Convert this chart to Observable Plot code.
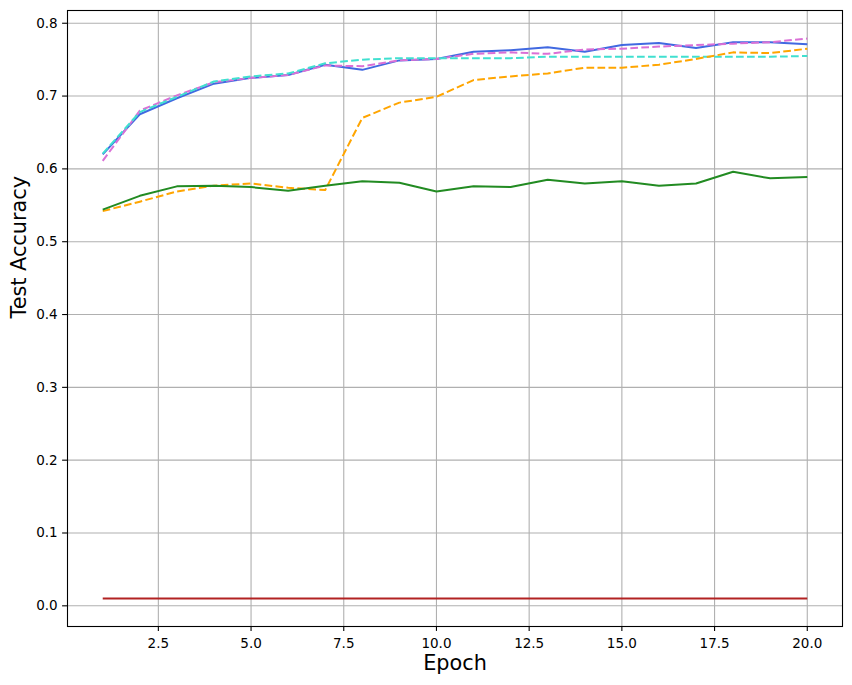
<!DOCTYPE html>
<html>
<head>
<meta charset="utf-8">
<script src="https://cdn.jsdelivr.net/npm/d3@7"></script>
<script src="https://cdn.jsdelivr.net/npm/@observablehq/plot@0.6"></script>
<style>
  html, body { margin: 0; padding: 0; background: #fff; }
  #chart { width: 852px; height: 685px; }
</style>
</head>
<body>
<div id="chart"></div>
<script>
const epochs = [1,2,3,4,5,6,7,8,9,10,11,12,13,14,15,16,17,18,19,20];

const blueSolid = [0.620,0.675,0.697,0.717,0.725,0.729,0.743,0.736,0.749,0.751,0.761,0.763,0.767,0.761,0.770,0.773,0.766,0.774,0.774,0.771];
const orchidDashed = [0.611,0.680,0.701,0.719,0.725,0.729,0.742,0.741,0.749,0.751,0.758,0.760,0.758,0.764,0.765,0.768,0.770,0.772,0.774,0.779];
const turquoiseDashed = [0.621,0.678,0.699,0.720,0.727,0.731,0.745,0.750,0.752,0.752,0.752,0.752,0.754,0.754,0.754,0.754,0.754,0.754,0.754,0.755];
const orangeDashed = [0.542,0.555,0.569,0.577,0.580,0.574,0.571,0.670,0.691,0.699,0.722,0.727,0.731,0.739,0.739,0.743,0.751,0.760,0.759,0.765];
const greenSolid = [0.544,0.563,0.576,0.577,0.575,0.570,0.577,0.583,0.581,0.569,0.576,0.575,0.585,0.580,0.583,0.577,0.580,0.596,0.587,0.589];
const redSolid = [0.010,0.010,0.010,0.010,0.010,0.010,0.010,0.010,0.010,0.010,0.010,0.010,0.010,0.010,0.010,0.010,0.010,0.010,0.010,0.010];

const seriesList = [
  {name: "blue", values: blueSolid, color: "#4169e1", dash: null},
  {name: "orchid", values: orchidDashed, color: "#da70d6", dash: "7.7,3.3"},
  {name: "turquoise", values: turquoiseDashed, color: "#40e0d0", dash: "7.7,3.3"},
  {name: "orange", values: orangeDashed, color: "#ffa500", dash: "7.7,3.3"},
  {name: "green", values: greenSolid, color: "#228b22", dash: null},
  {name: "red", values: redSolid, color: "#b22222", dash: null}
];

const xTicks = [2.5,5,7.5,10,12.5,15,17.5,20];
const yTicks = [0,0.1,0.2,0.3,0.4,0.5,0.6,0.7,0.8];

const font = "DejaVu Sans, sans-serif";

const lineMarks = seriesList.map(s => Plot.line(
  epochs.map((e, i) => ({epoch: e, acc: s.values[i]})),
  {x: "epoch", y: "acc", stroke: s.color, strokeWidth: 2, strokeDasharray: s.dash, strokeLinecap: "butt", strokeLinejoin: "round"}
));

const chart = Plot.plot({
  width: 852,
  height: 685,
  marginLeft: 67,
  marginRight: 10,
  marginTop: 10,
  marginBottom: 59,
  style: {fontFamily: font, fontSize: "13.5px", color: "black", background: "white", overflow: "visible"},
  x: {domain: [0.05, 20.95]},
  y: {domain: [-0.0284, 0.8175]},
  marks: [
    Plot.gridX(xTicks, {stroke: "#b0b0b0", strokeOpacity: 1, strokeWidth: 1.1}),
    Plot.gridY(yTicks, {stroke: "#b0b0b0", strokeOpacity: 1, strokeWidth: 1.1}),
    ...lineMarks,
    Plot.frame({stroke: "black", strokeWidth: 1.1}),
    Plot.axisX(xTicks, {tickSize: 4.9, tickPadding: 6.8, tickFormat: d => d.toFixed(1), label: null, fontSize: 13.5, stroke: "black", strokeWidth: 1.1}),
    Plot.axisY(yTicks, {tickSize: 4.9, tickPadding: 4.9, tickFormat: d => d.toFixed(1), label: null, fontSize: 13.5, stroke: "black", strokeWidth: 1.1}),
    Plot.text(["Epoch"], {frameAnchor: "bottom", dy: 37, text: d => d, fontSize: 20.8, fill: "black", lineAnchor: "middle"}),
    Plot.text(["Test Accuracy"], {frameAnchor: "left", dx: -48, rotate: -90, text: d => d, fontSize: 20.8, fill: "black", lineAnchor: "middle"})
  ]
});

document.getElementById("chart").appendChild(chart);
</script>
</body>
</html>
